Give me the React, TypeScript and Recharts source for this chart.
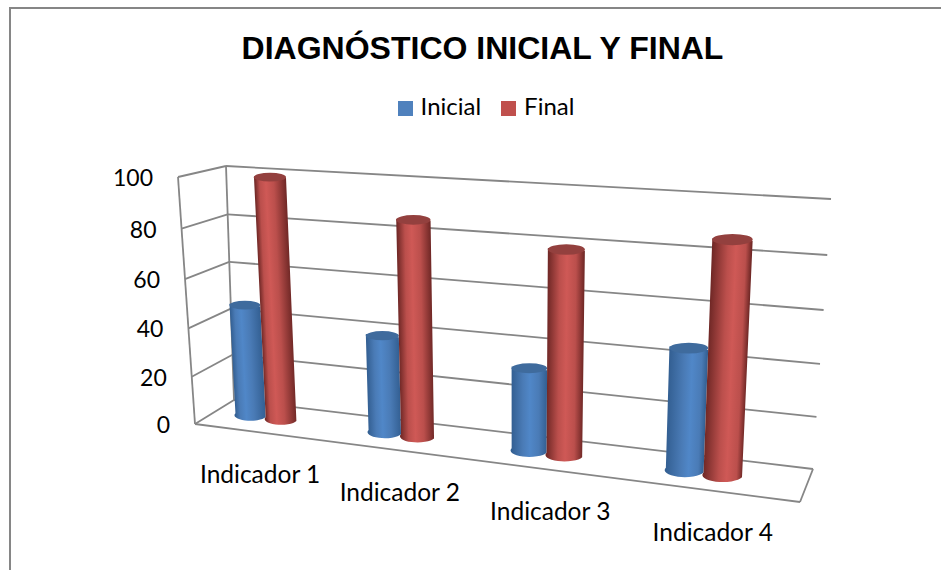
import React from 'react';
import { Bar, BarChart, CartesianGrid, Legend, XAxis, YAxis } from 'recharts';

const categories = ['Indicador 1', 'Indicador 2', 'Indicador 3', 'Indicador 4'];
const inicialValues = [47, 40, 33, 47];
const finalValues = [100, 87, 80, 88];
const yTicks = [0, 20, 40, 60, 80, 100];

const data = categories.map((name, i) => ({
  name,
  Inicial: inicialValues[i],
  Final: finalValues[i],
}));

const WIDTH = 941;
const HEIGHT = 570;
const LABEL_FONT = 'Lato, "Open Sans", sans-serif';
const GRID_COLOR = '#868686';

// plot rectangle that recharts ends up with, given the margins below
const PLOT = { x: 200, y: 170, w: 600, h: 300 };

type Pt = [number, number];

// corners in order: top left, top right, bottom right, bottom left
const BACK_WALL: Pt[] = [[226, 166], [831, 199], [813, 469], [234, 400]];
const FRONT_PLANE: Pt[] = [[178, 177], [820, 217], [800, 502], [195, 424]];
const BAR_PLANE: Pt[] = [[187, 172], [801.5, 210], [786.8, 483], [201.5, 409]];

// unit square to quad homography
function makeProjector(quad: Pt[]) {
  const [[x0, y0], [x1, y1], [x2, y2], [x3, y3]] = quad;
  const dx1 = x1 - x2;
  const dx2 = x3 - x2;
  const dx3 = x0 - x1 + x2 - x3;
  const dy1 = y1 - y2;
  const dy2 = y3 - y2;
  const dy3 = y0 - y1 + y2 - y3;
  const den = dx1 * dy2 - dx2 * dy1;
  const g = (dx3 * dy2 - dx2 * dy3) / den;
  const h = (dx1 * dy3 - dx3 * dy1) / den;
  const a = x1 - x0 + g * x1;
  const b = x3 - x0 + h * x3;
  const d = y1 - y0 + g * y1;
  const e = y3 - y0 + h * y3;
  return (px: number, py: number): Pt => {
    const u = (px - PLOT.x) / PLOT.w;
    const v = (py - PLOT.y) / PLOT.h;
    const w = g * u + h * v + 1;
    return [(a * u + b * v + x0) / w, (d * u + e * v + y0) / w];
  };
}

const toBack = makeProjector(BACK_WALL);
const toFront = makeProjector(FRONT_PLANE);
const toBars = makeProjector(BAR_PLANE);

const seg = (p: Pt, q: Pt, key?: string) => (
  <line key={key} x1={p[0]} y1={p[1]} x2={q[0]} y2={q[1]} stroke={GRID_COLOR} strokeWidth={1.8} />
);

// one gridline: along the back wall and across the left wall
const renderGridLine = (props: any) => {
  const { x1, x2, y1, key } = props;
  return (
    <g key={key ?? y1}>
      {seg(toBack(x1, y1), toBack(x2, y1))}
      {seg(toFront(x1, y1), toBack(x1, y1))}
    </g>
  );
};

const YTick = ({ y, payload }: any) => {
  const [px, py] = toFront(PLOT.x, y);
  return (
    <text x={px - 25} y={py + 9} textAnchor="end" fontFamily={LABEL_FONT} fontSize={23} fill="#000">
      {payload.value}
    </text>
  );
};

const XTick = ({ x, payload }: any) => {
  const [px, py] = toFront(x, PLOT.y + PLOT.h);
  return (
    <text x={px - 1} y={py + 50} textAnchor="middle" fontFamily={LABEL_FONT} fontSize={24.5} fill="#000">
      {payload.value}
    </text>
  );
};

const makeCylinder = (dark: string, base: string, light: string, top: string) => (props: any) => {
  const { x, y, width, height, index } = props;
  const tl = toBars(x, y);
  const tr = toBars(x + width, y);
  const br = toBars(x + width, y + height);
  const bl = toBars(x, y + height);
  const rxTop = (tr[0] - tl[0]) / 2;
  const rxBottom = (br[0] - bl[0]) / 2;
  const ryTop = rxTop * 0.28;
  const ryBottom = rxBottom * 0.35;

  // shading runs across the cylinder, square to its leaning axis
  const ax = (tl[0] + tr[0] - bl[0] - br[0]) / 2;
  const ay = (tl[1] + tr[1] - bl[1] - br[1]) / 2;
  const len = Math.hypot(ax, ay);
  const nx = -ay / len;
  const ny = ax / len;
  const span = rxTop + rxBottom;
  const sx = (tl[0] + bl[0]) / 2;
  const sy = (tl[1] + bl[1]) / 2;
  const id = `cyl-${dark.slice(1)}-${index}`;
  // the highlight drifts to the right from one group to the next
  const peak = 0.36 + index * 0.08;

  return (
    <g>
      <defs>
        <linearGradient
          id={id}
          gradientUnits="userSpaceOnUse"
          x1={sx}
          y1={sy}
          x2={sx + nx * span}
          y2={sy + ny * span}
        >
          <stop offset="0" stopColor={dark} />
          <stop offset={peak - 0.2} stopColor={base} />
          <stop offset={peak} stopColor={light} />
          <stop offset={peak + 0.25} stopColor={base} />
          <stop offset="1" stopColor={dark} />
        </linearGradient>
      </defs>
      <path
        d={`M${tl[0]},${tl[1]} L${bl[0]},${bl[1]} A${rxBottom},${ryBottom} 0 0 0 ${br[0]},${br[1]} L${tr[0]},${tr[1]} Z`}
        fill={`url(#${id})`}
      />
      <ellipse
        cx={(tl[0] + tr[0]) / 2}
        cy={(tl[1] + tr[1]) / 2}
        rx={rxTop}
        ry={ryTop}
        fill={top}
      />
    </g>
  );
};

const InicialShape = makeCylinder('#335f92', '#4a7bb6', '#5087c8', '#3f6b9d');
const FinalShape = makeCylinder('#702826', '#bb4f4c', '#cf5956', '#93403e');

export default function App() {
  return (
    <div style={{ position: 'absolute', left: 0, top: 0, width: WIDTH, height: HEIGHT, background: '#fff' }}>
      <div
        style={{
          position: 'absolute',
          left: 9,
          top: 7,
          right: 0,
          bottom: 0,
          borderTop: `2px solid ${GRID_COLOR}`,
          borderLeft: `2px solid ${GRID_COLOR}`,
        }}
      />
      <div style={{ position: 'absolute', left: 0, top: 0 }}>
        <BarChart
          width={WIDTH}
          height={HEIGHT}
          data={data}
          margin={{ top: 170, right: 141, bottom: 70, left: 140 }}
          barSize={35}
          barGap={0}
        >
          <text
            x={482.5}
            y={59}
            textAnchor="middle"
            fontFamily='"Liberation Sans", Arial, sans-serif'
            fontWeight="bold"
            fontSize={32}
            fill="#000"
          >
            DIAGNÓSTICO INICIAL Y FINAL
          </text>
          <CartesianGrid vertical={false} horizontal={renderGridLine} />
          <XAxis dataKey="name" height={30} axisLine={false} tickLine={false} tick={<XTick />} interval={0} />
          <YAxis width={60} domain={[0, 100]} ticks={yTicks} axisLine={false} tickLine={false} tick={<YTick />} />
          <g>
            {seg(toFront(PLOT.x, PLOT.y), toFront(PLOT.x, PLOT.y + PLOT.h))}
            {seg(toBack(PLOT.x, PLOT.y), toBack(PLOT.x, PLOT.y + PLOT.h))}
            {seg(toFront(PLOT.x, PLOT.y + PLOT.h), toFront(PLOT.x + PLOT.w, PLOT.y + PLOT.h))}
            {seg(toFront(PLOT.x + PLOT.w, PLOT.y + PLOT.h), toBack(PLOT.x + PLOT.w, PLOT.y + PLOT.h))}
          </g>
          <Legend
            layout="horizontal"
            align="center"
            verticalAlign="middle"
            iconType="square"
            iconSize={15}
            itemSorter={null}
            wrapperStyle={{ left: 396, top: 91, width: 200, height: 32, fontFamily: LABEL_FONT, fontSize: 24 }}
            formatter={(value: string) => (
              <span style={{ color: '#000', marginLeft: 4, marginRight: 10 }}>{value}</span>
            )}
          />
          <Bar dataKey="Inicial" fill="#4f81bd" shape={InicialShape} isAnimationActive={false} />
          <Bar dataKey="Final" fill="#c0504d" shape={FinalShape} isAnimationActive={false} />
        </BarChart>
      </div>
    </div>
  );
}
